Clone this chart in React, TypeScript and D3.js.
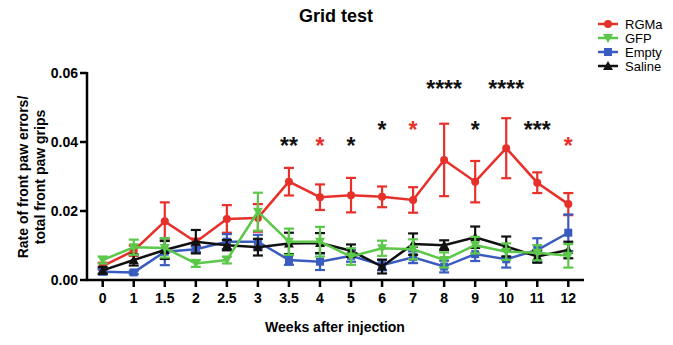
import React from "react";
import * as d3 from "d3";

const weeks = ["0", "1", "1.5", "2", "2.5", "3", "3.5", "4", "5", "6", "7", "8", "9", "10", "11", "12"];
const seriesNames = ["RGMa", "GFP", "Empty", "Saline"];
const rgmaMean = [0.004, 0.0085, 0.017, 0.011, 0.0177, 0.018, 0.0285, 0.024, 0.0246, 0.0241, 0.0232, 0.0348, 0.0285, 0.0382, 0.0282, 0.022];
const rgmaErr = [0.001, 0.0015, 0.0055, 0.001, 0.004, 0.004, 0.004, 0.0037, 0.005, 0.003, 0.0037, 0.0105, 0.006, 0.0087, 0.003, 0.0032];
const gfpMean = [0.0058, 0.0095, 0.0093, 0.0048, 0.0058, 0.0198, 0.0111, 0.0111, 0.0068, 0.0092, 0.0089, 0.0058, 0.0101, 0.0082, 0.0079, 0.007];
const gfpErr = [0.001, 0.0022, 0.0028, 0.001, 0.001, 0.0055, 0.0038, 0.0043, 0.0024, 0.0022, 0.0029, 0.0022, 0.0024, 0.0024, 0.0022, 0.0034];
const emptyMean = [0.0024, 0.0022, 0.0082, 0.0089, 0.0111, 0.0111, 0.0058, 0.0053, 0.007, 0.0043, 0.0066, 0.0039, 0.0075, 0.006, 0.0087, 0.0137];
const emptyErr = [0.0008, 0.0005, 0.0039, 0.0008, 0.0022, 0.002, 0.0014, 0.0024, 0.0017, 0.0015, 0.0017, 0.0017, 0.002, 0.0024, 0.0034, 0.0053];
const salineMean = [0.0028, 0.0058, 0.0087, 0.0111, 0.0101, 0.0095, 0.0106, 0.0107, 0.0085, 0.0039, 0.0104, 0.0101, 0.0124, 0.0097, 0.0068, 0.0087];
const salineErr = [0.001, 0.0016, 0.0026, 0.0034, 0.0015, 0.0024, 0.0031, 0.0029, 0.0018, 0.002, 0.0031, 0.0014, 0.0031, 0.0029, 0.0018, 0.0024];
const yTicks = [0, 0.02, 0.04, 0.06];

const sigWeeks = ["3.5", "4", "5", "6", "7", "8", "9", "10", "11", "12"];
const sigLabels = ["**", "*", "*", "*", "*", "****", "*", "****", "***", "*"];
const sigGroup = ["Saline", "RGMa", "Saline", "Saline", "RGMa", "Saline", "Saline", "Saline", "Saline", "RGMa"];
const sigLevel = [0.0404, 0.0404, 0.0404, 0.0449, 0.0449, 0.0568, 0.0449, 0.0568, 0.0449, 0.0404];

const colors: Record<string, string> = {
  RGMa: "#e8302a",
  GFP: "#5cc84a",
  Empty: "#3a5cc0",
  Saline: "#111111",
};

const FONT = "'Liberation Sans', Arial, Helvetica, sans-serif";

function Marker({ name, x, y }: { name: string; x: number; y: number }) {
  const c = colors[name];
  if (name === "RGMa") return <circle cx={x} cy={y} r={4} fill={c} />;
  if (name === "Empty") return <rect x={x - 4} y={y - 4} width={8} height={8} fill={c} />;
  if (name === "GFP") return <path d={`M${x},${y - 5}L${x + 5},${y + 4}L${x - 5},${y + 4}Z`} fill={c} transform={`rotate(180 ${x} ${y})`} />;
  return <path d={`M${x},${y - 5}L${x + 5},${y + 4}L${x - 5},${y + 4}Z`} fill={c} />;
}

export default function App() {
  const x = d3.scalePoint<string>().domain(weeks).range([102.7, 568.3]);
  const y = d3.scaleLinear().domain([0, 0.06]).range([280, 73]);
  const means: Record<string, number[]> = { RGMa: rgmaMean, GFP: gfpMean, Empty: emptyMean, Saline: salineMean };
  const errs: Record<string, number[]> = { RGMa: rgmaErr, GFP: gfpErr, Empty: emptyErr, Saline: salineErr };
  const drawOrder = ["RGMa", "Empty", "Saline", "GFP"];
  const line = d3
    .line<number>()
    .x((_, i) => x(weeks[i]) as number)
    .y((d) => y(d));

  return (
    <svg width={673} height={345} style={{ position: "absolute", left: 0, top: 0, background: "#fff" }} fontFamily={FONT}>
      <text x={336} y={22} textAnchor="middle" fontWeight="bold" fontSize={18}>
        Grid test
      </text>

      {/* Y axis */}
      <line x1={87} x2={87} y1={y(0.06) - 1} y2={281} stroke="#000" strokeWidth={2.5} />
      {yTicks.map((t) => (
        <g key={t}>
          <line x1={80} x2={87} y1={y(t)} y2={y(t)} stroke="#000" strokeWidth={2.5} />
          <text x={78} y={y(t) + 5} textAnchor="end" fontWeight="bold" fontSize={14}>
            {t.toFixed(2)}
          </text>
        </g>
      ))}
      <g transform="translate(28,177) rotate(-90)">
        <text x={0} y={0} textAnchor="middle" fontWeight="bold" fontSize={14}>
          Rate of front paw errors/
        </text>
        <text x={0} y={17} textAnchor="middle" fontWeight="bold" fontSize={14}>
          total front paw grips
        </text>
      </g>

      {/* X axis */}
      <line x1={86} x2={584} y1={280} y2={280} stroke="#000" strokeWidth={2.5} />
      {weeks.map((w) => (
        <g key={w}>
          <line x1={x(w)} x2={x(w)} y1={280} y2={287} stroke="#000" strokeWidth={2.5} />
          <text x={x(w)} y={303} textAnchor="middle" fontWeight="bold" fontSize={14}>
            {w}
          </text>
        </g>
      ))}
      <text x={335} y={332} textAnchor="middle" fontWeight="bold" fontSize={14}>
        Weeks after injection
      </text>

      {/* Series */}
      {drawOrder.map((name) => {
        const c = colors[name];
        const m = means[name];
        const e = errs[name];
        return (
          <g key={name}>
            <path d={line(m) || ""} fill="none" stroke={c} strokeWidth={2.5} />
            {m.map((v, i) => {
              const cx = x(weeks[i]) as number;
              const top = y(v + e[i]);
              const bot = y(v - e[i]);
              return (
                <g key={i}>
                  <line x1={cx} x2={cx} y1={top} y2={bot} stroke={c} strokeWidth={2.2} />
                  <line x1={cx - 5} x2={cx + 5} y1={top} y2={top} stroke={c} strokeWidth={2.2} />
                  <line x1={cx - 5} x2={cx + 5} y1={bot} y2={bot} stroke={c} strokeWidth={2.2} />
                  <Marker name={name} x={cx} y={y(v)} />
                </g>
              );
            })}
          </g>
        );
      })}

      {/* Significance */}
      {sigWeeks.map((w, i) => (
        <text
          key={w}
          x={x(w)}
          y={y(sigLevel[i]) + 13}
          textAnchor="middle"
          fontWeight="bold"
          fontSize={23}
          fill={colors[sigGroup[i]]}
        >
          {sigLabels[i]}
        </text>
      ))}

      {/* Legend */}
      {seriesNames.map((name, i) => {
        const ly = 24 + i * 14;
        return (
          <g key={name}>
            <line x1={598} x2={618} y1={ly} y2={ly} stroke={colors[name]} strokeWidth={2.5} />
            <Marker name={name} x={608} y={ly} />
            <text x={625} y={ly + 4.5} fontSize={13}>
              {name}
            </text>
          </g>
        );
      })}
    </svg>
  );
}
